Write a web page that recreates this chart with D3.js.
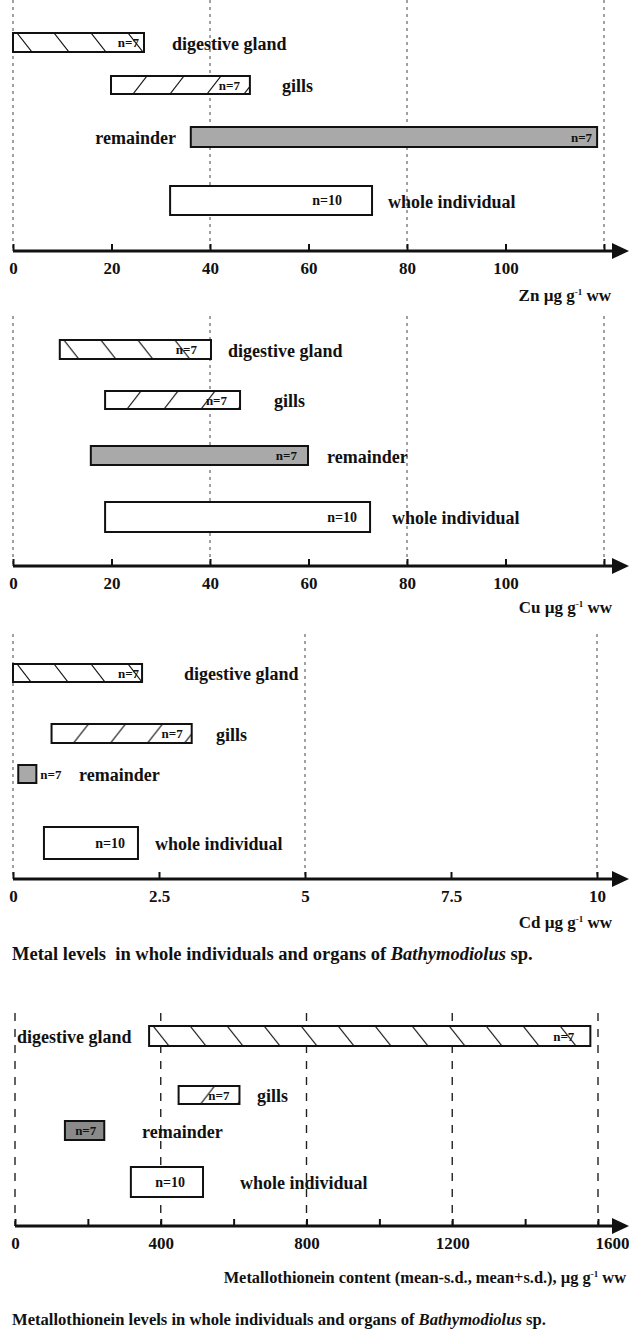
<!DOCTYPE html>
<html><head><meta charset="utf-8">
<script src="https://cdn.jsdelivr.net/npm/d3@7/dist/d3.min.js"></script>
<style>
html,body{margin:0;padding:0;background:#fff;}
svg{display:block;}
text{font-family:"Liberation Serif","Times New Roman",serif;font-weight:bold;fill:#111;}
</style></head>
<body>
<svg id="chart" width="629" height="1335"></svg>
<script>
// ---------- DATA ----------
const organs = ["digestive gland", "gills", "remainder", "whole individual"];
const nLabels = ["n=7", "n=7", "n=7", "n=10"];
const fills = ["hatchBack", "hatchFwd", "grey", "white"];

const znLow  = [0, 19.9, 36.1, 31.9];
const znHigh = [26.6, 48.1, 118.6, 72.9];
const cuLow  = [9.5, 18.7, 15.8, 18.7];
const cuHigh = [40.2, 46.1, 59.9, 72.5];
const cdLow  = [0, 0.66, 0.09, 0.53];
const cdHigh = [2.21, 3.06, 0.40, 2.14];
const mtLow  = [368, 449, 137, 318];
const mtHigh = [1579, 616, 245, 516];

const znTicks = [0, 20, 40, 60, 80, 100, 120];
const znTickLabels = ["0", "20", "40", "60", "80", "100", ""];
const znGrid = [0, 40, 80, 120];
const cuTicks = [0, 20, 40, 60, 80, 100, 120];
const cuTickLabels = ["0", "20", "40", "60", "80", "100", ""];
const cuGrid = [0, 40, 80, 120];
const cdTicks = [0, 2.5, 5, 7.5, 10];
const cdTickLabels = ["0", "2.5", "5", "7.5", "10"];
const cdGrid = [0, 5, 10];
const mtTicks = [0, 200, 400, 600, 800, 1000, 1200, 1400, 1600];
const mtTickLabels = ["0", "", "400", "", "800", "", "1200", "", "1600"];
const mtGrid = [0, 400, 800, 1200, 1600];

const unitZn = "Zn \u00b5g g";
const unitCu = "Cu \u00b5g g";
const unitCd = "Cd \u00b5g g";
const unitMt = "Metallothionein content (mean-s.d., mean+s.d.), \u00b5g g";
const caption1 = ["Metal levels\u00a0 in whole individuals and organs of ", "Bathymodiolus", " sp."];
const caption2 = ["Metallothionein levels in whole individuals and organs of ", "Bathymodiolus", " sp."];

// ---------- LAYOUT ----------
const panels = [
  { low: znLow, high: znHigh, domain: [0, 120], range: [13, 604], ticks: znTicks, tickLabels: znTickLabels, grid: znGrid,
    gridTop: 0, axisY: 251, unit: unitZn, unitY: 295, unitX: 611, gridStyle: "fine",
    rows: [[33, 19], [76, 18], [127, 20], [186, 29]],
    labels: [[172, "start"], [282, "start"], [176, "end"], [388, "start"]],
    nPad: [5, 10, 5, 30] },
  { low: cuLow, high: cuHigh, domain: [0, 120], range: [13, 604], ticks: cuTicks, tickLabels: cuTickLabels, grid: cuGrid,
    gridTop: 316, axisY: 566, unit: unitCu, unitY: 607, unitX: 612, gridStyle: "fine",
    rows: [[340, 19], [391, 18], [446, 19], [502, 30]],
    labels: [[228, "start"], [274, "start"], [327, "start"], [392, "start"]],
    nPad: [14, 13, 11, 13] },
  { low: cdLow, high: cdHigh, domain: [0, 10], range: [13, 597], ticks: cdTicks, tickLabels: cdTickLabels, grid: cdGrid,
    gridTop: 634, axisY: 879, unit: unitCd, unitY: 922, unitX: 612, gridStyle: "fine",
    rows: [[664, 18], [724, 19], [765, 18], [827, 32]],
    labels: [[184, "start"], [216, "start"], [79, "start"], [155, "start"]],
    nPad: [3, 9, -4, 13] },
  { low: mtLow, high: mtHigh, domain: [0, 1600], range: [15, 598], ticks: mtTicks, tickLabels: mtTickLabels, grid: mtGrid,
    gridTop: 1013, axisY: 1226, unit: unitMt, unitY: 1277, unitX: 626, gridStyle: "long",
    rows: [[1026, 20], [1086, 18], [1121, 19], [1167, 30]],
    labels: [[17, "start"], [257, "start"], [142, "start"], [240, "start"]],
    nPad: [16, 10, 8, 18] }
];

const svg = d3.select("#chart");
const defs = svg.append("defs");
let pid = 0;

function hatchPattern(x, y, h, dir) {
  const id = "hp" + (pid++);
  const sp = 37, sl = Math.round(h * 0.8);
  const p = defs.append("pattern").attr("id", id).attr("patternUnits", "userSpaceOnUse")
    .attr("x", x).attr("y", y).attr("width", sp).attr("height", h);
  p.append("rect").attr("width", sp).attr("height", h).attr("fill", "#fff");
  if (dir === "back") {
    p.append("line").attr("x1", 4).attr("y1", 0).attr("x2", 4 + sl).attr("y2", h);
  } else {
    p.append("line").attr("x1", 6 + sl).attr("y1", 0).attr("x2", 6).attr("y2", h);
  }
  p.selectAll("line").attr("stroke", "#111").attr("stroke-width", 1.2);
  return "url(#" + id + ")";
}

panels.forEach((P, pi) => {
  const g = svg.append("g");
  const x = d3.scaleLinear().domain(P.domain).range(P.range);

  // grid lines
  g.selectAll("line.grid").data(P.grid).join("line")
    .attr("x1", d => x(d)).attr("x2", d => x(d))
    .attr("y1", P.gridTop).attr("y2", P.axisY)
    .attr("stroke", P.gridStyle === "long" ? "#222" : "#444")
    .attr("stroke-width", P.gridStyle === "long" ? 1.4 : 1)
    .attr("stroke-dasharray", P.gridStyle === "long" ? "8,8" : "3,4");

  // bars
  organs.forEach((org, i) => {
    const [ry, rh] = P.rows[i];
    const x0 = x(P.low[i]), x1 = x(P.high[i]);
    let fill = "#fff";
    if (fills[i] === "hatchBack") fill = hatchPattern(x0, ry, rh, "back");
    else if (fills[i] === "hatchFwd") fill = hatchPattern(x0 + 16, ry, rh, "fwd");
    else if (fills[i] === "grey") fill = pi === 3 ? "#8a8a8a" : "#a9a9a9";
    g.append("rect").attr("x", x0).attr("y", ry).attr("width", x1 - x0).attr("height", rh)
      .attr("fill", fill).attr("stroke", "#111").attr("stroke-width", 2);

    const pad = P.nPad[i];
    const nText = g.append("text")
      .attr("y", ry + rh / 2).attr("dy", "0.35em")
      .style("font-size", (i === 3 ? 14 : 13) + "px")
      .text(nLabels[i]);
    if (pad >= 0) nText.attr("x", x1 - pad).attr("text-anchor", "end");
    else nText.attr("x", x1 - pad).attr("text-anchor", "start");

    const [lx, anchor] = P.labels[i];
    g.append("text").attr("x", lx).attr("y", ry + rh / 2 + 1).attr("dy", "0.35em")
      .attr("text-anchor", anchor).style("font-size", "18px").text(org);
  });

  // axis
  const axis = d3.axisBottom(x).tickValues(P.ticks)
    .tickFormat((d, i) => P.tickLabels[i]).tickSize(-7).tickPadding(11);
  const ag = g.append("g").attr("transform", `translate(0,${P.axisY})`).call(axis);
  ag.select(".domain").remove();
  ag.selectAll(".tick line").attr("stroke", "#111").attr("stroke-width", 2);
  ag.selectAll(".tick text").attr("fill", "#111")
    .attr("dx", d => (pi === 3 && d === 1600) ? 14 : 0)
    .style("font-family", '"Liberation Serif","Times New Roman",serif')
    .style("font-weight", "bold").style("font-size", "17px");
  g.append("line").attr("x1", P.range[0]).attr("x2", 614).attr("y1", P.axisY).attr("y2", P.axisY)
    .attr("stroke", "#111").attr("stroke-width", 3);
  g.append("path").attr("d", `M612,${P.axisY - 8}L629,${P.axisY}L612,${P.axisY + 8}Z`).attr("fill", "#111");

  // unit label
  const big = pi === 3 ? 16.4 : 17;
  const ut = g.append("text").attr("x", P.unitX).attr("y", P.unitY).attr("dy", "0.35em")
    .attr("text-anchor", "end").style("font-size", big + "px");
  ut.append("tspan").text(P.unit);
  ut.append("tspan").attr("dy", -6).style("font-size", "9px").text("-1");
  ut.append("tspan").attr("dy", 6).text(" ww");
});

function caption(parts, y, size) {
  const t = svg.append("text").attr("x", 12).attr("y", y).attr("dy", "0.35em").style("font-size", size + "px");
  t.append("tspan").text(parts[0]);
  t.append("tspan").style("font-style", "italic").text(parts[1]);
  t.append("tspan").text(parts[2]);
}
caption(caption1, 954, 18.5);
caption(caption2, 1319, 16.6);
</script>
</body></html>
